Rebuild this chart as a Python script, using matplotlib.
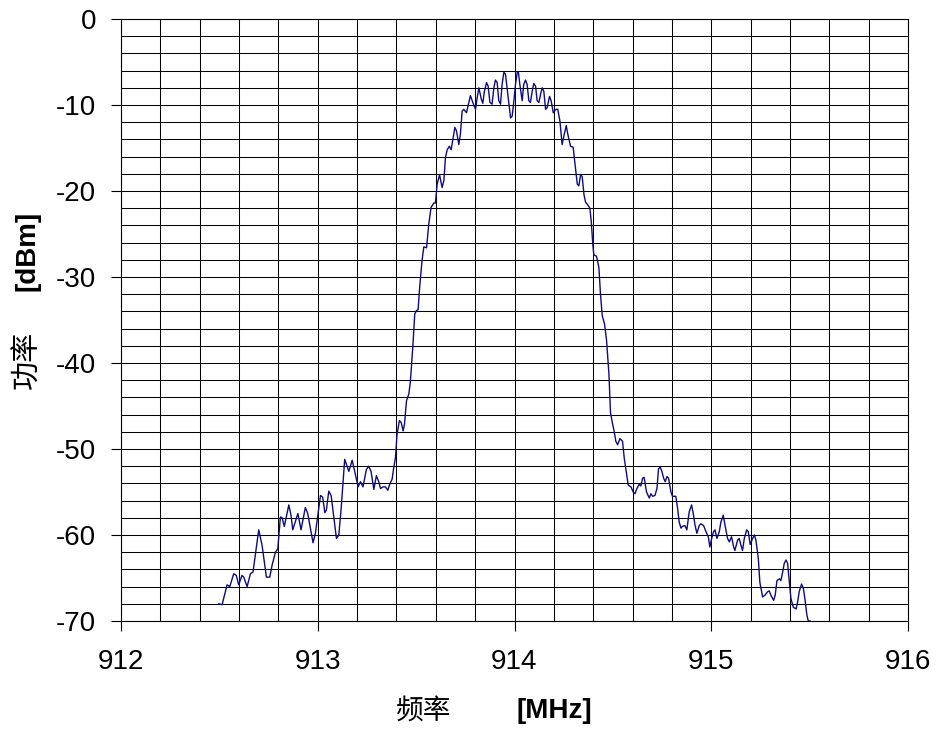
import matplotlib
matplotlib.use('Agg')
import matplotlib.pyplot as plt
from matplotlib.ticker import MultipleLocator

plt.rcParams['font.family'] = ['Liberation Sans', 'DejaVu Sans']
plt.rcParams['axes.unicode_minus'] = False

# spectrum trace
freq_mhz = [
    912.497, 912.514, 912.539, 912.553, 912.573, 912.586, 912.598, 912.615, 912.624, 912.641,
    912.658, 912.671, 912.700, 912.717, 912.739, 912.756, 912.768, 912.785, 912.797, 912.810,
    912.819, 912.830, 912.853, 912.864, 912.873, 912.899, 912.915, 912.937, 912.949, 912.976,
    912.988, 913.014, 913.025, 913.036, 913.044, 913.056, 913.068, 913.095, 913.107, 913.119,
    913.137, 913.158, 913.175, 913.186, 913.205, 913.217, 913.230, 913.247, 913.259, 913.271,
    913.285, 913.298, 913.310, 913.319, 913.332, 913.344, 913.356, 913.366, 913.378, 913.386,
    913.395, 913.403, 913.415, 913.424, 913.434, 913.441, 913.451, 913.463, 913.471, 913.483,
    913.493, 913.502, 913.510, 913.519, 913.530, 913.539, 913.553, 913.564, 913.576, 913.590,
    913.598, 913.607, 913.619, 913.632, 913.641, 913.649, 913.658, 913.669, 913.678, 913.688,
    913.697, 913.705, 913.717, 913.725, 913.734, 913.742, 913.756, 913.768, 913.776, 913.788,
    913.802, 913.810, 913.819, 913.831, 913.839, 913.847, 913.858, 913.866, 913.875, 913.886,
    913.895, 913.903, 913.912, 913.920, 913.929, 913.937, 913.946, 913.954, 913.966, 913.980,
    913.988, 913.997, 914.005, 914.014, 914.020, 914.027, 914.039, 914.047, 914.056, 914.064,
    914.073, 914.081, 914.090, 914.098, 914.107, 914.115, 914.124, 914.132, 914.141, 914.149,
    914.158, 914.166, 914.178, 914.186, 914.197, 914.203, 914.212, 914.220, 914.231, 914.242,
    914.251, 914.263, 914.271, 914.285, 914.298, 914.310, 914.319, 914.327, 914.336, 914.344,
    914.353, 914.361, 914.369, 914.383, 914.390, 914.398, 914.403, 914.417, 914.429, 914.437,
    914.446, 914.458, 914.468, 914.480, 914.488, 914.497, 914.507, 914.515, 914.524, 914.536,
    914.549, 914.558, 914.569, 914.578, 914.592, 914.603, 914.612, 914.622, 914.634, 914.642,
    914.651, 914.659, 914.671, 914.685, 914.693, 914.702, 914.714, 914.724, 914.732, 914.741,
    914.749, 914.758, 914.766, 914.775, 914.783, 914.795, 914.803, 914.820, 914.829, 914.837,
    914.846, 914.854, 914.866, 914.876, 914.888, 914.900, 914.910, 914.917, 914.927, 914.939,
    914.947, 914.961, 914.973, 914.985, 914.993, 915.002, 915.012, 915.019, 915.029, 915.041,
    915.049, 915.061, 915.071, 915.083, 915.092, 915.103, 915.114, 915.120, 915.134, 915.142,
    915.151, 915.159, 915.168, 915.180, 915.188, 915.198, 915.210, 915.219, 915.227, 915.239,
    915.247, 915.261, 915.273, 915.286, 915.295, 915.303, 915.317, 915.325, 915.334, 915.346,
    915.354, 915.363, 915.371, 915.380, 915.388, 915.397, 915.405, 915.417, 915.431, 915.439,
    915.447, 915.459, 915.468, 915.476, 915.486, 915.493, 915.503,
]
power_dbm = [
    -68.0, -68.1, -65.8, -66.0, -64.5, -64.7, -65.8, -64.7, -64.9, -66.0,
    -64.5, -64.3, -59.4, -61.2, -64.9, -64.9, -63.5, -62.0, -61.6, -57.9,
    -58.0, -59.0, -56.5, -57.7, -59.4, -57.5, -59.4, -56.8, -57.5, -60.9,
    -59.8, -55.4, -55.6, -57.4, -57.1, -54.9, -55.4, -60.4, -60.0, -56.9,
    -51.2, -52.6, -51.3, -52.4, -54.4, -53.8, -54.4, -52.4, -52.0, -52.6,
    -54.7, -53.1, -53.8, -54.6, -54.4, -54.4, -54.8, -54.1, -53.5, -52.2,
    -51.0, -48.3, -46.7, -46.9, -47.9, -47.1, -44.4, -43.6, -42.1, -38.2,
    -34.3, -33.9, -33.8, -30.9, -28.1, -26.5, -26.6, -23.9, -21.9, -21.4,
    -21.4, -19.2, -18.1, -19.6, -18.8, -16.1, -15.2, -14.8, -15.2, -13.8,
    -12.6, -13.0, -14.6, -13.4, -10.7, -10.5, -10.9, -9.7, -8.9, -9.7,
    -10.5, -9.2, -8.0, -9.3, -9.8, -8.4, -7.4, -7.8, -9.7, -9.9,
    -8.0, -7.1, -7.4, -9.5, -9.9, -7.6, -6.2, -6.4, -8.8, -11.5,
    -11.3, -9.5, -7.6, -6.2, -6.2, -7.6, -9.5, -7.6, -7.1, -7.6,
    -9.5, -9.7, -8.4, -7.5, -7.8, -9.5, -9.7, -8.8, -8.0, -8.4,
    -10.5, -10.3, -9.0, -9.5, -10.9, -10.7, -10.5, -10.5, -11.9, -14.6,
    -13.6, -12.4, -13.4, -14.8, -14.9, -17.3, -19.2, -19.4, -18.1, -18.3,
    -20.4, -21.3, -21.5, -22.0, -23.5, -26.2, -27.4, -27.6, -28.9, -32.0,
    -34.5, -35.5, -37.4, -41.3, -45.8, -46.9, -48.0, -49.1, -49.5, -48.8,
    -49.1, -51.1, -52.8, -54.2, -54.4, -55.0, -55.2, -54.6, -54.1, -54.3,
    -53.4, -53.3, -55.0, -55.7, -55.2, -55.5, -55.4, -54.6, -52.3, -52.1,
    -52.6, -53.4, -53.8, -53.2, -53.4, -55.0, -55.5, -55.5, -56.9, -58.5,
    -59.2, -59.0, -58.9, -59.4, -57.3, -56.5, -57.7, -58.8, -59.8, -58.9,
    -58.7, -58.9, -59.6, -60.2, -61.4, -60.4, -59.6, -59.4, -60.4, -59.6,
    -58.5, -57.7, -59.0, -60.4, -60.8, -60.2, -61.4, -61.8, -60.6, -60.4,
    -61.2, -61.8, -60.4, -59.4, -59.6, -61.1, -60.4, -60.0, -60.6, -62.7,
    -65.5, -67.2, -67.0, -66.6, -66.5, -67.0, -67.6, -67.0, -65.3, -65.1,
    -65.3, -64.3, -63.3, -62.9, -63.3, -65.5, -67.4, -68.4, -68.6, -67.8,
    -66.6, -65.7, -66.2, -67.4, -69.3, -70.0, -70.0,
]

x_ticks = [912, 913, 914, 915, 916]
y_ticks = [0, -10, -20, -30, -40, -50, -60, -70]

W, H = 937, 731
fig = plt.figure(figsize=(W / 100, H / 100), dpi=100)
ax = fig.add_axes([121 / W, 1 - 621 / H, (908 - 121) / W, (621 - 19) / H])

ax.plot(freq_mhz, power_dbm, color='#0c0c80', linewidth=1.0)

ax.set_xlim(912, 916)
ax.set_ylim(-70, 0)
ax.set_xticks(x_ticks)
ax.set_yticks(y_ticks)
ax.xaxis.set_minor_locator(MultipleLocator(0.2))
ax.yaxis.set_minor_locator(MultipleLocator(2))
ax.grid(which='both', color='black', linewidth=0.75)
ax.set_axisbelow(True)
ax.tick_params(which='major', direction='out', length=7, width=0.8, labelsize=20,
               top=False, right=False)
ax.tick_params(axis='y', which='major', pad=11)
ax.tick_params(axis='x', which='major', pad=13)
ax.tick_params(which='minor', length=0)
for s in ax.spines.values():
    s.set_color('black')
    s.set_linewidth(0.8)

# axis titles: Chinese part regular, unit part bold
fig.text(424 / W, 1 - 711 / H, '频率', fontsize=20, ha='center', va='center',
         family=['Noto Sans CJK SC', 'DejaVu Sans'])
fig.text(554 / W, 1 - 711 / H, '[MHz]', fontsize=20, fontweight='bold',
         ha='center', va='center')
fig.text(28 / W, 1 - 360 / H, '功率', fontsize=21, rotation=90, ha='center', va='center',
         family=['Noto Sans CJK SC', 'DejaVu Sans'])
fig.text(28 / W, 1 - 251 / H, '[dBm]', fontsize=20, fontweight='bold', rotation=90,
         ha='center', va='center')

fig.savefig('out.png', dpi=100)
